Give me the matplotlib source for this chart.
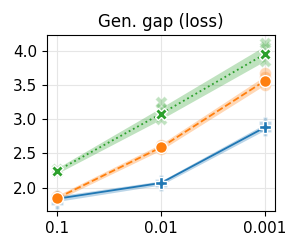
import numpy as np
import matplotlib.pyplot as plt

# Data
lrs = ["0.1", "0.01", "0.001"]

blue_mean = [1.84, 2.07, 2.88]
blue_lo = [1.80, 2.04, 2.84]
blue_hi = [1.88, 2.10, 2.93]
blue_runs = [[1.78, 1.88], [2.04, 2.10], [2.85, 2.95]]

orange_mean = [1.85, 2.59, 3.56]
orange_lo = [1.82, 2.55, 3.50]
orange_hi = [1.89, 2.64, 3.63]
orange_runs = [[1.83, 1.88], [2.57, 2.63], [3.50, 3.62, 3.68]]

green_mean = [2.25, 3.08, 3.95]
green_lo = [2.21, 3.00, 3.85]
green_hi = [2.29, 3.17, 4.07]
green_runs = [[2.23, 2.27], [3.00, 3.15, 3.25], [3.85, 4.05, 4.12]]

series = [
    (blue_mean, blue_lo, blue_hi, blue_runs, "#1f77b4", "-", "P"),
    (orange_mean, orange_lo, orange_hi, orange_runs, "#ff7f0e", "--", "o"),
    (green_mean, green_lo, green_hi, green_runs, "#2ca02c", ":", "X"),
]

x = np.arange(len(lrs))

fig, ax = plt.subplots(figsize=(3, 2.5), dpi=100)

for mean, lo, hi, runs, c, ls, m in series:
    ax.fill_between(x, lo, hi, color=c, alpha=0.3, lw=0)
    for i, r in enumerate(runs):
        ax.plot([x[i]] * len(r), r, ls="none", marker=m, ms=8.5, color=c,
                alpha=0.3, mec="white", mew=0.8)
    ax.plot(x, mean, ls=ls, color=c, lw=1.3, marker=m, ms=8.5,
            mec="white", mew=1.0)

ax.set_xticks(x)
ax.set_xticklabels(lrs)
ax.set_xlim(-0.1, 2.1)
ax.set_ylim(1.66, 4.23)
ax.set_yticks([2.0, 2.5, 3.0, 3.5, 4.0])
ax.grid(True, color="#e6e6e6", lw=0.8)
ax.set_axisbelow(True)
ax.set_title("Gen. gap (loss)", fontsize=12)
ax.tick_params(labelsize=11)

plt.subplots_adjust(left=0.157, right=0.917, top=0.86, bottom=0.156)
plt.savefig("out.png")
